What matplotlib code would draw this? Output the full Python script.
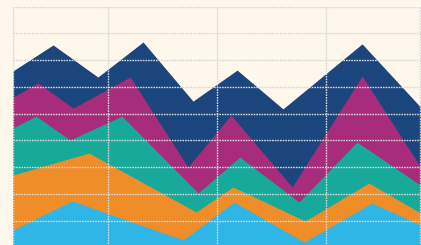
import matplotlib
matplotlib.use('Agg')
import matplotlib.pyplot as plt

# each layer has its own break points; layers overlap from the baseline
navy_x = [0, 1.18, 2.50, 3.83, 5.30, 6.60, 7.95, 10.28, 12]
navy_y = [6.60, 7.57, 6.37, 7.68, 5.47, 6.63, 5.18, 7.61, 5.25]

plum_x = [0, 0.74, 1.77, 3.45, 5.15, 6.42, 8.22, 10.28, 12]
plum_y = [5.62, 6.15, 5.21, 6.37, 3.01, 4.95, 2.26, 6.41, 3.01]

teal_x = [0, 0.68, 1.68, 3.21, 5.45, 6.68, 8.42, 10.13, 12]
teal_y = [4.47, 4.91, 4.02, 4.91, 2.04, 3.38, 1.70, 3.94, 2.33]

orange_x = [0, 2.24, 5.39, 6.48, 8.60, 10.48, 12]
orange_y = [2.71, 3.53, 1.33, 2.26, 0.99, 2.41, 1.29]

sky_x = [0, 1.74, 5.01, 6.51, 8.57, 10.57, 12]
sky_y = [0.65, 1.74, 0.28, 1.70, 0.20, 1.66, 0.84]

layers = [
    (navy_x, navy_y, '#1B457D'),
    (plum_x, plum_y, '#A72C7B'),
    (teal_x, teal_y, '#17A99A'),
    (orange_x, orange_y, '#EF8D28'),
    (sky_x, sky_y, '#2DB6E6'),
]

bg = '#FEF7EB'
fig = plt.figure(figsize=(4.21, 2.45), dpi=100, facecolor=bg)
ax = fig.add_axes([13 / 421, -0.0100, 407.5 / 421, 0.9827])
ax.set_facecolor(bg)

for xs, ys, c in layers:
    ax.fill_between(xs, 0, ys, color=c, linewidth=0)

ax.set_xlim(0, 12)
ax.set_ylim(0, 9)
ax.set_xticks([0, 2.80, 6.01, 9.22, 12])
ax.set_yticks(range(0, 10))
ax.set_axisbelow(False)
ax.grid(True, color='#D8D8D8', linewidth=1.0, linestyle=(0, (1.2, 0.7)))
ax.tick_params(length=0, labelbottom=False, labelleft=False)
for s in ax.spines.values():
    s.set_visible(False)

fig.savefig('out.png', dpi=100, facecolor=bg)
